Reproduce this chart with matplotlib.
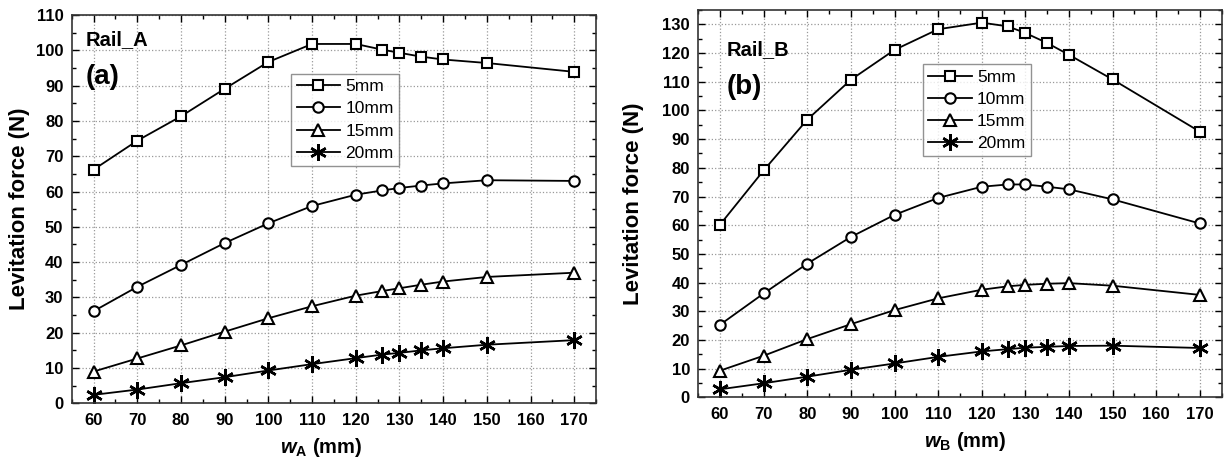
import matplotlib.pyplot as plt
from matplotlib.ticker import MultipleLocator

plt.rcParams['font.family'] = ['Liberation Sans', 'DejaVu Sans']
plt.rcParams['mathtext.fontset'] = 'custom'
plt.rcParams['mathtext.bfit'] = 'Liberation Sans:bold:italic'
plt.rcParams['mathtext.bf'] = 'Liberation Sans:bold'

# gap width (mm)
w = [60, 70, 80, 90, 100, 110, 120, 126, 130, 135, 140, 150, 170]
gaps = ["5mm", "10mm", "15mm", "20mm"]
markers = ["s", "o", "^", (6, 2, 0)]
msizes = [6.5, 7.5, 8, 12]
medges = [1.5, 1.5, 1.5, 1.8]

# Rail_A levitation force (N)
rail_a_5 = [66.2, 74.4, 81.3, 89.1, 96.7, 101.8, 101.8, 100.2, 99.3, 98.2, 97.4, 96.4, 93.9]
rail_a_10 = [26.1, 33.0, 39.2, 45.4, 51.0, 55.9, 59.1, 60.3, 61.0, 61.7, 62.3, 63.2, 63.0]
rail_a_15 = [9.0, 12.7, 16.4, 20.3, 24.1, 27.5, 30.5, 31.8, 32.6, 33.6, 34.5, 35.8, 37.0]
rail_a_20 = [2.4, 3.9, 5.7, 7.4, 9.3, 11.1, 12.8, 13.8, 14.3, 15.0, 15.6, 16.6, 17.9]

# Rail_B levitation force (N)
rail_b_5 = [60.2, 79.1, 96.8, 110.7, 121.1, 128.3, 130.6, 129.3, 127.0, 123.5, 119.4, 110.8, 92.6]
rail_b_10 = [25.3, 36.2, 46.6, 55.9, 63.6, 69.5, 73.4, 74.2, 74.2, 73.4, 72.5, 69.0, 60.6]
rail_b_15 = [9.3, 14.5, 20.3, 25.5, 30.4, 34.5, 37.5, 38.7, 39.2, 39.6, 39.8, 38.9, 35.7]
rail_b_20 = [2.8, 4.9, 7.2, 9.6, 11.8, 14.1, 16.0, 16.8, 17.3, 17.6, 17.9, 18.0, 17.2]

fig = plt.figure(figsize=(12.28, 4.62), dpi=100)
ax1 = fig.add_axes([0.0584, 0.1270, 0.4270, 0.8405])
ax2 = fig.add_axes([0.5686, 0.1400, 0.4262, 0.8383])


def draw(ax, series, ylim, sub, rail, tag, leg_box, rail_pos, tag_pos,
         xlab_x, ylab_x):
    for ys, lab, m, ms, mew in zip(series, gaps, markers, msizes, medges):
        ax.plot(w, ys, color="black", lw=1.3, marker=m, ms=ms,
                mfc="white", mec="black", mew=mew, label=lab)
    ax.set_xlim(55, 175)
    ax.set_ylim(*ylim)
    ax.xaxis.set_major_locator(MultipleLocator(10))
    ax.xaxis.set_minor_locator(MultipleLocator(5))
    ax.yaxis.set_major_locator(MultipleLocator(10))
    ax.yaxis.set_minor_locator(MultipleLocator(5))
    ax.tick_params(which="both", direction="in", top=True, right=True, width=1)
    ax.tick_params(which="major", length=5, labelsize=12)
    ax.tick_params(axis="y", which="major", pad=6)
    ax.tick_params(axis="x", which="major", pad=7)
    ax.tick_params(which="minor", length=3)
    for lbl in ax.get_xticklabels() + ax.get_yticklabels():
        lbl.set_fontweight("bold")
    ax.grid(True, which="major", color="#999999", ls=":", lw=0.9)
    for s in ax.spines.values():
        s.set_linewidth(1.2)
        s.set_color("#333333")
    ax.set_ylabel("Levitation force (N)", fontsize=16, fontweight="bold")
    ax.yaxis.set_label_coords(ylab_x, 0.5)
    ax.set_xlabel(r"$\mathbfit{w}_{\mathbf{%s}}$ (mm)" % sub,
                  fontsize=14.5, fontweight="bold")
    ax.xaxis.set_label_coords(xlab_x, -0.085)
    ax.text(rail_pos[0], rail_pos[1], rail, transform=ax.transAxes,
            fontsize=14.5, fontweight="bold", va="center")
    ax.text(tag_pos[0], tag_pos[1], tag, transform=ax.transAxes,
            fontsize=20, fontweight="bold", va="center")
    leg = ax.legend(loc="upper left", bbox_to_anchor=leg_box, fontsize=12.5,
                    frameon=True, fancybox=False, edgecolor="#777777",
                    handlelength=2.5, handletextpad=0.3, borderpad=0.3,
                    labelspacing=0.4, borderaxespad=0)
    leg.get_frame().set_linewidth(1.0)


draw(ax1, [rail_a_5, rail_a_10, rail_a_15, rail_a_20], (0, 110), "A",
     "Rail_A", "(a)", (0.419, 0.848), (0.027, 0.936), (0.027, 0.84),
     0.4755, -0.08)
draw(ax2, [rail_b_5, rail_b_10, rail_b_15, rail_b_20], (0, 135), "B",
     "Rail_B", "(b)", (0.43, 0.86), (0.054, 0.897), (0.054, 0.80),
     0.5096, -0.103)

fig.savefig("out.png", dpi=100)
